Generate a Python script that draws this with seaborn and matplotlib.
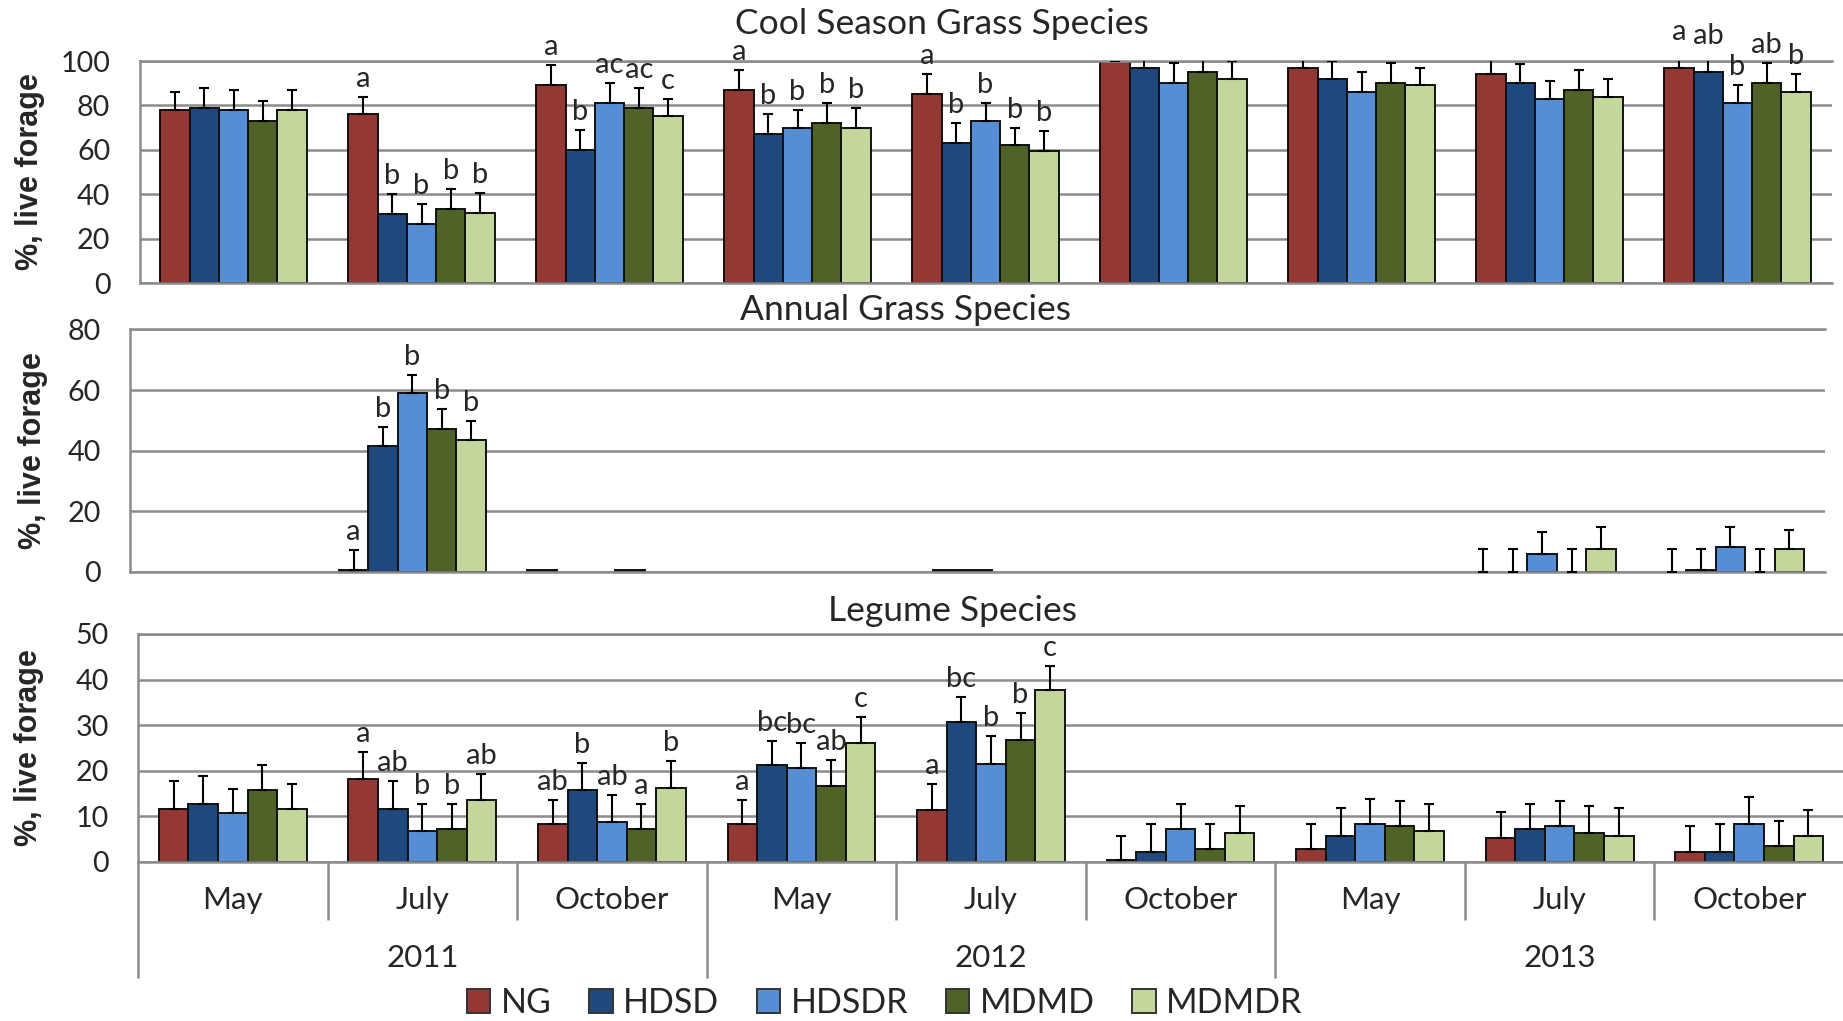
import numpy as np
import pandas as pd
import matplotlib
matplotlib.use("Agg")
import matplotlib.pyplot as plt
import matplotlib.transforms as mtransforms
from matplotlib.patches import Patch
import seaborn as sns

# ---------------------------------------------------------------- data
treatments = ["NG", "HDSD", "HDSDR", "MDMD", "MDMDR"]
colors = ["#953735", "#1F497D", "#558ED5", "#4F6228", "#C3D69B"]
month_names = ["May", "July", "October"]
years = ["2011", "2012", "2013"]
periods = [f"{m} {y}" for y in years for m in month_names]

# Cool season grass species, % live forage (rows follow treatments)
cool_mean = [
    [78, 76, 89, 87, 85, 100, 97, 94, 97],
    [79, 31, 60, 67, 63, 97, 92, 90, 95],
    [78, 26.5, 81, 70, 73, 90, 86, 83, 81],
    [73, 33.5, 79, 72, 62, 95, 90, 87, 90],
    [78, 31.5, 75, 70, 59.5, 92, 89, 84, 86],
]
cool_err = [
    [8, 8, 9, 9, 9, 8, 8, 8, 8],
    [9, 9, 9, 9, 9, 8, 8, 8.5, 8],
    [9, 9, 9, 8, 8, 9, 9, 8, 8],
    [9, 9, 9, 9, 8, 8, 9, 9, 9],
    [9, 9, 8, 9, 9, 8, 8, 8, 8],
]
cool_letters = [
    ["", "a", "a", "a", "a", "", "", "", "a"],
    ["", "b", "b", "b", "b", "", "", "", "ab"],
    ["", "b", "ac", "b", "b", "", "", "", "b"],
    ["", "b", "ac", "b", "b", "", "", "", "ab"],
    ["", "b", "c", "b", "b", "", "", "", "b"],
]

# Annual grass species
annual_mean = [
    [0, 0.7, 0.5, 0, 0, 0, 0, 0, 0],
    [0, 41.5, 0, 0, 0.5, 0, 0, 0, 0.5],
    [0, 59, 0, 0, 0.5, 0, 0, 5.9, 8.2],
    [0, 47.3, 0.5, 0, 0, 0, 0, 0, 0],
    [0, 43.6, 0, 0, 0, 0, 0, 7.5, 7.5],
]
annual_err = [
    [0, 6.5, 0, 0, 0, 0, 0, 7.5, 7.5],
    [0, 6.4, 0, 0, 0, 0, 0, 7.5, 7],
    [0, 6, 0, 0, 0, 0, 0, 7.4, 6.5],
    [0, 6.6, 0, 0, 0, 0, 0, 7.5, 7.5],
    [0, 6.2, 0, 0, 0, 0, 0, 7.2, 6.4],
]
annual_letters = [
    ["", "a", "", "", "", "", "", "", ""],
    ["", "b", "", "", "", "", "", "", ""],
    ["", "b", "", "", "", "", "", "", ""],
    ["", "b", "", "", "", "", "", "", ""],
    ["", "b", "", "", "", "", "", "", ""],
]

# Legume species
legume_mean = [
    [11.7, 18.2, 8.3, 8.4, 11.3, 0.4, 2.9, 5.3, 2.3],
    [12.8, 11.7, 15.7, 21.3, 30.6, 2.3, 5.8, 7.3, 2.3],
    [10.8, 6.8, 8.8, 20.7, 21.6, 7.3, 8.4, 7.8, 8.4],
    [15.7, 7.3, 7.3, 16.7, 26.7, 2.9, 7.8, 6.4, 3.4],
    [11.7, 13.7, 16.2, 26.2, 37.7, 6.4, 6.9, 5.8, 5.8],
]
legume_err = [
    [6, 5.9, 5.4, 5.3, 5.9, 5.4, 5.5, 5.6, 5.5],
    [6, 6, 6, 5.2, 5.6, 6.1, 6, 5.5, 6.1],
    [5.3, 6, 6, 5.5, 6, 5.5, 5.4, 5.5, 5.9],
    [5.6, 5.5, 5.5, 5.6, 5.9, 5.5, 5.5, 5.8, 5.5],
    [5.5, 5.6, 5.9, 5.5, 5.2, 5.8, 5.9, 6, 5.6],
]
legume_letters = [
    ["", "a", "ab", "a", "a", "", "", "", ""],
    ["", "ab", "b", "bc", "bc", "", "", "", ""],
    ["", "b", "ab", "bc", "b", "", "", "", ""],
    ["", "b", "a", "ab", "b", "", "", "", ""],
    ["", "ab", "b", "c", "c", "", "", "", ""],
]

# ---------------------------------------------------------------- style
sns.set_style("white")
plt.rcParams["font.family"] = ["Lato", "DejaVu Sans"]
GRID = "#8c8c8c"

W, H = 1843, 1021
fig = plt.figure(figsize=(W / 100, H / 100), dpi=100)


def px_axes(left, right, top, bottom):
    return fig.add_axes([left / W, 1 - bottom / H, (right - left) / W, (bottom - top) / H])


def draw_panel(ax, means, errs, letters, ymax, ystep):
    rows = []
    for t, vals in zip(treatments, means):
        for p, v in zip(periods, vals):
            rows.append({"period": p, "treatment": t, "value": v})
    df = pd.DataFrame(rows)
    sns.barplot(data=df, x="period", y="value", hue="treatment",
                order=periods, hue_order=treatments, palette=colors,
                saturation=1, width=0.78, errorbar=None, legend=False,
                edgecolor="#111111", linewidth=1.4, ax=ax)

    for cont, err_row, lab_row in zip(ax.containers, errs, letters):
        bars = sorted(cont.patches, key=lambda b: b.get_x())
        for bar, e, lab in zip(bars, err_row, lab_row):
            h = bar.get_height()
            cx = bar.get_x() + bar.get_width() / 2
            if h == 0:
                bar.set_linewidth(0)
            if e > 0:
                ax.errorbar(cx, h, yerr=[[0], [e]], fmt="none", ecolor="black",
                            elinewidth=1.5, capsize=3.8, capthick=1.5, zorder=4)
            if lab:
                ax.annotate(lab, (cx, h + e), xytext=(0, 5), textcoords="offset pixels",
                            ha="center", va="bottom", fontsize=21,
                            annotation_clip=False, zorder=5)

    ax.set_xlim(-0.5, len(periods) - 0.5)
    ax.set_ylim(0, ymax)
    ax.set_yticks(np.arange(0, ymax + 1, ystep))
    ax.grid(axis="y", color=GRID, lw=1.8)
    ax.grid(axis="x", visible=False)
    ax.set_axisbelow(True)
    for side in ("left", "top", "bottom"):
        ax.spines[side].set_visible(True)
        ax.spines[side].set_color(GRID)
        ax.spines[side].set_linewidth(1.8)
    ax.spines["right"].set_visible(False)
    ax.tick_params(axis="y", length=6, width=1.8, color=GRID, pad=15, labelsize=20.7)
    ax.tick_params(axis="x", length=0, labelbottom=False)
    ax.set_xlabel("")
    ax.set_ylabel("")


ax_cool = px_axes(139.5, 1831.5, 61, 283)
ax_ann = px_axes(130, 1824.6, 329.5, 572)
ax_leg = px_axes(138, 1844, 634, 862)

draw_panel(ax_cool, cool_mean, cool_err, cool_letters, 100, 20)
draw_panel(ax_ann, annual_mean, annual_err, annual_letters, 80, 20)
draw_panel(ax_leg, legume_mean, legume_err, legume_letters, 50, 10)

# panel titles
fig.text(941.5 / W, 1 - 34 / H, "Cool Season Grass Species", ha="center", va="baseline", fontsize=25.5)
fig.text(906 / W, 1 - 320 / H, "Annual Grass Species", ha="center", va="baseline", fontsize=25.5)
fig.text(953 / W, 1 - 621 / H, "Legume Species", ha="center", va="baseline", fontsize=25.5)

# y-axis labels
for yc, xc in ((172, 30), (451, 33), (748, 29)):
    fig.text(xc / W, 1 - yc / H, "%, live forage", rotation=90, ha="center", va="center",
             fontsize=22, fontweight="bold", family="Liberation Sans")

# two-level category axis under the legume panel
ax_h_px = 862 - 634
blend = mtransforms.blended_transform_factory(ax_leg.transData, ax_leg.transAxes)
for i, p in enumerate(periods):
    ax_leg.annotate(month_names[i % 3], (i, 0), xycoords=blend, xytext=(0, -47),
                    textcoords="offset pixels", ha="center", va="baseline",
                    fontsize=22.5, annotation_clip=False)
for j, y in enumerate(years):
    ax_leg.annotate(y, (3 * j + 1, 0), xycoords=blend, xytext=(0, -105),
                    textcoords="offset pixels", ha="center", va="baseline",
                    fontsize=22.5, annotation_clip=False)
for k in range(len(periods) + 1):
    xb = k - 0.5
    depth = 116 if k % 3 == 0 else 58
    ax_leg.plot([xb, xb], [0, -depth / ax_h_px], transform=blend, color=GRID,
                lw=1.8, clip_on=False, solid_capstyle="butt")

# legend
handles = [Patch(facecolor=c, edgecolor="#333333", linewidth=1.4, label=t)
           for t, c in zip(treatments, colors)]
fig.legend(handles=handles, loc="center", bbox_to_anchor=(884.5 / W, 1 - 1003 / H),
           ncol=5, frameon=False, fontsize=24.5, handlelength=0.7, handleheight=0.7,
           handletextpad=0.3, columnspacing=1.1, borderaxespad=0, borderpad=0)

fig.savefig("out.png", dpi=100)
